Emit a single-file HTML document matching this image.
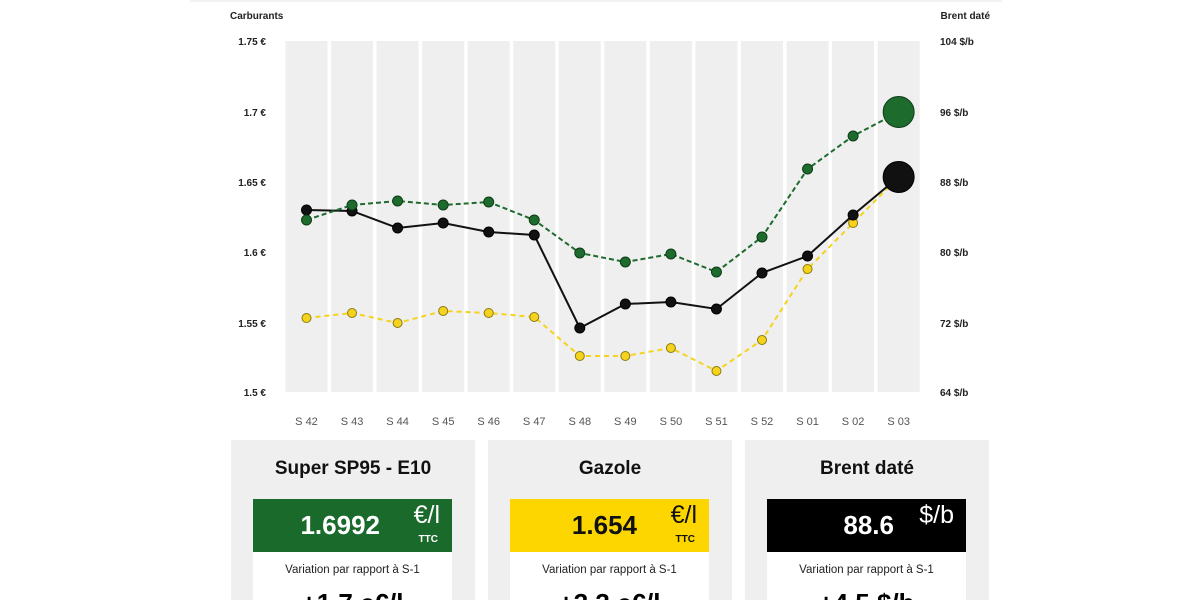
<!DOCTYPE html>
<html><head><meta charset="utf-8"><style>
body{margin:0;width:1200px;height:600px;overflow:hidden;background:#fff;font-family:"Liberation Sans",sans-serif;position:relative}
.card{position:absolute;top:440px;width:244px;height:160px;background:#efefef;overflow:hidden}
.card h3{margin:0;position:absolute;width:100%;text-align:center;font-size:19px;font-weight:bold;color:#111;top:18px}
.box{position:absolute;left:22px;top:59px;width:199px;height:53px}
.val{position:absolute;right:72px;top:11px;font-size:26px;font-weight:bold}
.unit{position:absolute;right:12px;top:2px;font-size:25px}
.ttc{position:absolute;right:14px;top:35px;font-size:10px;font-weight:bold}
.white{position:absolute;left:22px;top:112px;width:199px;height:48px;background:#fff;text-align:center}
.var{font-size:11.5px;color:#222;margin-top:12px}
.big{font-size:26px;font-weight:bold;margin-top:12px}
</style></head><body>
<div style="position:absolute;left:190px;top:0;width:812px;height:2px;background:#f2f2f2"></div>
<svg width="1200" height="440" style="position:absolute;left:0;top:0" font-family="Liberation Sans,sans-serif">
<g id="cols" fill="#efefef"></g>
<g font-size="10" font-weight="bold" fill="#222">
<text x="230" y="19">Carburants</text>
<text x="990" y="19" text-anchor="end">Brent daté</text>
<text x="266" y="45" text-anchor="end">1.75 €</text>
<text x="266" y="116" text-anchor="end">1.7 €</text>
<text x="266" y="186" text-anchor="end">1.65 €</text>
<text x="266" y="256" text-anchor="end">1.6 €</text>
<text x="266" y="327" text-anchor="end">1.55 €</text>
<text x="266" y="396" text-anchor="end">1.5 €</text>
<text x="940" y="45">104 $/b</text>
<text x="940" y="116">96 $/b</text>
<text x="940" y="186">88 $/b</text>
<text x="940" y="256">80 $/b</text>
<text x="940" y="327">72 $/b</text>
<text x="940" y="396">64 $/b</text>
</g>
<g id="xl" font-size="11" fill="#555" text-anchor="middle"></g>
<g id="lines"></g>
</svg>
<script>
var s=document.querySelector('svg'),ns='http://www.w3.org/2000/svg';
function el(t,a,p){var e=document.createElementNS(ns,t);for(var k in a)e.setAttribute(k,a[k]);(p||s).appendChild(e);return e;}
var labs=['S 42','S 43','S 44','S 45','S 46','S 47','S 48','S 49','S 50','S 51','S 52','S 01','S 02','S 03'];
var cols=document.getElementById('cols'),xl=document.getElementById('xl'),L=document.getElementById('lines');
for(var i=0;i<14;i++){var x=285.5+i*45.55;el('rect',{x:x,y:41,width:42,height:351},cols);var t=el('text',{x:x+21,y:425},xl);t.textContent=labs[i];}
function X(i){return 306.5+i*45.55;}
var Y=[318,313,323,311,313,317,356,356,348,371,340,269,223,177],
B=[210,211,228,223,232,235,328,304,302,309,273,256,215,177],
G=[220,205,201,205,202,220,253,262,254,272,237,169,136,112];
function ser(d,col,dash,stroke,r,big){var p=d.map(function(v,i){return X(i)+','+v}).join(' ');
el('polyline',{points:p,fill:'none',stroke:col,'stroke-width':2,'stroke-dasharray':dash||''},L);
d.forEach(function(v,i){el('circle',{cx:X(i),cy:v,r:i==13?big:r,fill:col,stroke:stroke,'stroke-width':1},L);});}
ser(Y,'#f5d21c','5,4','#8a7a10',4.5,4.5);
ser(B,'#111',null,'#000',5,15.5);
ser(G,'#1e6b2e','5,3','#0d3d18',5,15.5);
</script>
<div class="card" style="left:231px"><h3>Super SP95 - E10</h3>
<div class="box" style="background:#1a6a2c;color:#fff"><span class="val">1.6992</span><span class="unit">€/l</span><span class="ttc">TTC</span></div>
<div class="white"><div class="var">Variation par rapport à S-1</div><div class="big">+1,7 c€/l</div></div></div>
<div class="card" style="left:488px"><h3>Gazole</h3>
<div class="box" style="background:#fdd600;color:#111"><span class="val">1.654</span><span class="unit">€/l</span><span class="ttc">TTC</span></div>
<div class="white"><div class="var">Variation par rapport à S-1</div><div class="big">+3,3 c€/l</div></div></div>
<div class="card" style="left:745px"><h3>Brent daté</h3>
<div class="box" style="background:#000;color:#fff"><span class="val">88.6</span><span class="unit">$/b</span></div>
<div class="white"><div class="var">Variation par rapport à S-1</div><div class="big">+4,5 $/b</div></div></div>
</body></html>
